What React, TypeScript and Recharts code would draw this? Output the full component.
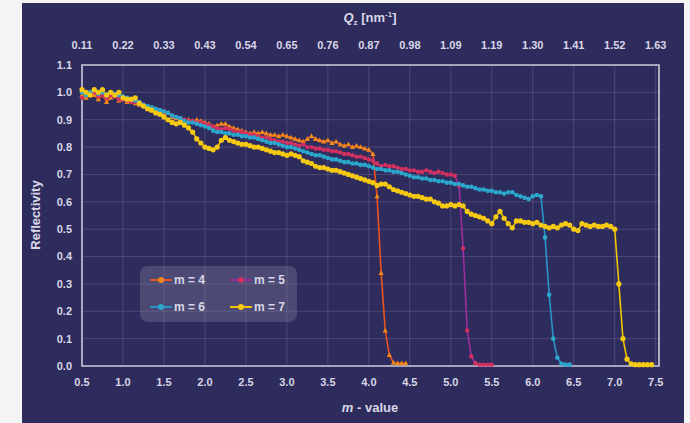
import React from "react";
import {
  CartesianGrid,
  Label,
  Line,
  LineChart,
  ReferenceArea,
  XAxis,
  YAxis,
} from "recharts";

// m-value grid shared by all four curves (step 0.05)
const M_VALUES = [
  0.5, 0.55, 0.6, 0.65, 0.7, 0.75, 0.8, 0.85, 0.9, 0.95,
  1.0, 1.05, 1.1, 1.15, 1.2, 1.25, 1.3, 1.35, 1.4, 1.45,
  1.5, 1.55, 1.6, 1.65, 1.7, 1.75, 1.8, 1.85, 1.9, 1.95,
  2.0, 2.05, 2.1, 2.15, 2.2, 2.25, 2.3, 2.35, 2.4, 2.45,
  2.5, 2.55, 2.6, 2.65, 2.7, 2.75, 2.8, 2.85, 2.9, 2.95,
  3.0, 3.05, 3.1, 3.15, 3.2, 3.25, 3.3, 3.35, 3.4, 3.45,
  3.5, 3.55, 3.6, 3.65, 3.7, 3.75, 3.8, 3.85, 3.9, 3.95,
  4.0, 4.05, 4.1, 4.15, 4.2, 4.25, 4.3, 4.35, 4.4, 4.45,
  4.5, 4.55, 4.6, 4.65, 4.7, 4.75, 4.8, 4.85, 4.9, 4.95,
  5.0, 5.05, 5.1, 5.15, 5.2, 5.25, 5.3, 5.35, 5.4, 5.45,
  5.5, 5.55, 5.6, 5.65, 5.7, 5.75, 5.8, 5.85, 5.9, 5.95,
  6.0, 6.05, 6.1, 6.15, 6.2, 6.25, 6.3, 6.35, 6.4, 6.45,
  6.5, 6.55, 6.6, 6.65, 6.7, 6.75, 6.8, 6.85, 6.9, 6.95,
  7.0, 7.05, 7.1, 7.15, 7.2, 7.25, 7.3, 7.35, 7.4, 7.45,
];

const R_M4 = [
  0.99, 0.98, 1.0, 0.99, 0.975, 0.99, 0.965, 0.98, 0.99, 0.97,
  0.975, 0.965, 0.97, 0.96, 0.955, 0.95, 0.94, 0.935, 0.93, 0.93,
  0.92, 0.925, 0.91, 0.905, 0.9, 0.895, 0.9, 0.895, 0.9, 0.895,
  0.89, 0.885, 0.875, 0.88, 0.885, 0.885, 0.875, 0.87, 0.865, 0.86,
  0.855, 0.85, 0.855, 0.85, 0.855, 0.85, 0.845, 0.845, 0.84, 0.845,
  0.84, 0.835, 0.83, 0.825, 0.82, 0.83, 0.84, 0.83, 0.825, 0.82,
  0.825, 0.815, 0.82, 0.81, 0.805, 0.81, 0.8, 0.805, 0.8, 0.795,
  0.79, 0.775, 0.62, 0.34, 0.13, 0.04, 0.012, 0.01, 0.01, 0.01,
];

const R_M5 = [
  0.98, 1.0, 0.99, 1.0, 0.985, 0.99, 0.98, 0.99, 0.985, 0.975,
  0.975, 0.97, 0.965, 0.965, 0.96, 0.955, 0.945, 0.94, 0.935, 0.93,
  0.93, 0.925, 0.915, 0.91, 0.905, 0.9, 0.895, 0.895, 0.89, 0.89,
  0.885, 0.88, 0.875, 0.87, 0.865, 0.87, 0.865, 0.86, 0.855, 0.855,
  0.85, 0.845, 0.845, 0.84, 0.835, 0.835, 0.83, 0.825, 0.82, 0.82,
  0.815, 0.815, 0.81, 0.805, 0.81, 0.8, 0.8, 0.795, 0.795, 0.79,
  0.79, 0.785, 0.785, 0.78, 0.775, 0.775, 0.77, 0.765, 0.765, 0.76,
  0.755, 0.75, 0.74, 0.73, 0.735, 0.73, 0.73, 0.725, 0.72, 0.72,
  0.715, 0.715, 0.71, 0.71, 0.715, 0.71, 0.705, 0.71, 0.705, 0.7,
  0.7, 0.695, 0.66, 0.43, 0.13, 0.035, 0.01, 0.005, 0.005, 0.005,
  0.005,
];

const R_M6 = [
  1.0, 0.99, 1.0, 1.01, 0.995, 1.0, 0.99, 1.0, 0.995, 0.99,
  0.985, 0.98, 0.975, 0.97, 0.965, 0.955, 0.95, 0.945, 0.94, 0.935,
  0.93, 0.925, 0.915, 0.91, 0.905, 0.895, 0.89, 0.89, 0.885, 0.88,
  0.875, 0.87, 0.86, 0.855, 0.855, 0.85, 0.85, 0.845, 0.845, 0.84,
  0.84, 0.835, 0.835, 0.83, 0.825, 0.82, 0.815, 0.815, 0.81, 0.805,
  0.8, 0.8, 0.795, 0.79, 0.785, 0.78, 0.775, 0.77, 0.77, 0.765,
  0.76, 0.755, 0.755, 0.75, 0.745, 0.745, 0.74, 0.74, 0.735, 0.735,
  0.73, 0.725, 0.72, 0.72, 0.715, 0.715, 0.71, 0.71, 0.705, 0.7,
  0.695, 0.69, 0.69, 0.685, 0.685, 0.68, 0.68, 0.675, 0.675, 0.67,
  0.67, 0.665, 0.665, 0.66, 0.655, 0.655, 0.65, 0.645, 0.645, 0.64,
  0.64, 0.635, 0.635, 0.63, 0.635, 0.635, 0.625, 0.62, 0.615, 0.61,
  0.62, 0.625, 0.62, 0.47, 0.26, 0.1, 0.03, 0.008, 0.005, 0.005,
];

const R_M7 = [
  1.01, 1.0, 0.99, 1.01, 1.0, 1.01, 0.99, 1.0, 0.99, 1.0,
  0.98, 0.975, 0.975, 0.98, 0.96, 0.95, 0.94, 0.935, 0.925, 0.92,
  0.91, 0.9, 0.89, 0.885, 0.89, 0.88, 0.87, 0.855, 0.83, 0.815,
  0.8, 0.795, 0.79, 0.8, 0.825, 0.835, 0.825, 0.82, 0.815, 0.81,
  0.81, 0.805, 0.8, 0.8, 0.795, 0.79, 0.785, 0.78, 0.78, 0.775,
  0.77, 0.775, 0.77, 0.765, 0.75, 0.745, 0.74, 0.73, 0.725, 0.725,
  0.72, 0.715, 0.715, 0.71, 0.705, 0.7, 0.695, 0.69, 0.685, 0.68,
  0.675, 0.67, 0.66, 0.665, 0.665, 0.655, 0.645, 0.64, 0.635, 0.63,
  0.625, 0.62, 0.62, 0.615, 0.61, 0.61, 0.6, 0.595, 0.585, 0.585,
  0.59, 0.585, 0.59, 0.585, 0.565, 0.555, 0.55, 0.545, 0.54, 0.53,
  0.52, 0.545, 0.565, 0.54, 0.52, 0.505, 0.53, 0.53, 0.525, 0.525,
  0.52, 0.525, 0.515, 0.51, 0.505, 0.51, 0.505, 0.515, 0.52, 0.515,
  0.5, 0.495, 0.52, 0.515, 0.51, 0.515, 0.51, 0.51, 0.515, 0.51,
  0.5, 0.3, 0.1, 0.025, 0.008, 0.005, 0.005, 0.005, 0.005, 0.005,
];

const M_TICKS = [0.5, 1.0, 1.5, 2.0, 2.5, 3.0, 3.5, 4.0, 4.5, 5.0, 5.5, 6.0, 6.5, 7.0, 7.5];
const Q_LABELS = [
  "0.11", "0.22", "0.33", "0.43", "0.54", "0.65", "0.76", "0.87",
  "0.98", "1.09", "1.19", "1.30", "1.41", "1.52", "1.63",
];
const Y_TICKS = [0, 0.1, 0.2, 0.3, 0.4, 0.5, 0.6, 0.7, 0.8, 0.9, 1.0, 1.1];

const SERIES = [
  { key: "m4", label: "m = 4", line: "#e8531f", dot: "#f28a1e", tri: true, r: 2.3 },
  { key: "m5", label: "m = 5", line: "#9c2f9e", dot: "#d2305f", tri: false, r: 2.2 },
  { key: "m6", label: "m = 6", line: "#2a93c6", dot: "#2ba6cc", tri: false, r: 2.3 },
  { key: "m7", label: "m = 7", line: "#f0c400", dot: "#f6c912", tri: false, r: 2.6 },
];

const data = M_VALUES.map((m, i) => ({
  m,
  m4: R_M4[i] ?? null,
  m5: R_M5[i] ?? null,
  m6: R_M6[i] ?? null,
  m7: R_M7[i] ?? null,
}));

const TEXT = "#d9d7e6";
const FONT = "'Liberation Sans', Arial, sans-serif";

function makeDot(color: string, tri: boolean, r: number) {
  return (p: any) => {
    const { cx, cy, index } = p;
    if (cx == null || cy == null || p.value == null) return <g key={index} />;
    if (tri) {
      return (
        <path
          key={index}
          d={`M${cx},${cy - 2.8}L${cx + 2.6},${cy + 2}L${cx - 2.6},${cy + 2}Z`}
          fill={color}
        />
      );
    }
    return <circle key={index} cx={cx} cy={cy} r={r} fill={color} />;
  };
}

function LegendBox() {
  return (
    <div
      style={{
        position: "absolute",
        left: 140,
        top: 266,
        width: 157,
        height: 56,
        borderRadius: 8,
        background: "rgba(120,116,150,0.42)",
        fontFamily: FONT,
        fontSize: 12,
        fontWeight: 600,
        color: TEXT,
      }}
    >
      {SERIES.map((s, i) => (
        <div
          key={s.key}
          style={{
            position: "absolute",
            left: 10 + (i % 2) * 80,
            top: 6 + Math.floor(i / 2) * 27,
            display: "flex",
            alignItems: "center",
            height: 16,
          }}
        >
          <svg width={22} height={10}>
            <line x1={0} y1={5} x2={22} y2={5} stroke={s.line} strokeWidth={2} />
            <circle cx={11} cy={5} r={3} fill={s.dot} />
          </svg>
          <span style={{ marginLeft: 2 }}>{s.label}</span>
        </div>
      ))}
    </div>
  );
}

export default function App() {
  return (
    <div style={{ position: "absolute", left: 0, top: 0, width: 690, height: 423, background: "#f4f4f6" }}>
      <div style={{ position: "absolute", left: 22, top: 3, width: 662, height: 420, background: "#2e2b5d" }} />
      <div style={{ position: "absolute", left: 0, top: 0 }}>
        <LineChart
          width={690}
          height={423}
          data={data}
          margin={{ top: 20, right: 31, bottom: 12, left: 22 }}
          style={{ fontFamily: FONT }}
        >
          <CartesianGrid stroke="rgba(255,255,255,0.14)" strokeWidth={1} />
          <XAxis
            dataKey="m"
            type="number"
            domain={[0.5, 7.54]}
            ticks={M_TICKS}
            tickFormatter={(v: number) => v.toFixed(1)}
            axisLine={false}
            tickLine={false}
            tickMargin={6}
            height={45}
            tick={{ fill: TEXT, fontSize: 11, fontWeight: 600 }}
            interval={0}
          >
            <Label
              content={(props: any) => {
                const vb = props.viewBox;
                return (
                  <text x={370} y={vb.y + 46} textAnchor="middle" fill={TEXT} fontSize={13} fontWeight={600}>
                    <tspan fontStyle="italic">m</tspan>
                    <tspan> - value</tspan>
                  </text>
                );
              }}
            />
          </XAxis>
          <XAxis
            xAxisId="top"
            dataKey="m"
            type="number"
            orientation="top"
            domain={[0.5, 7.54]}
            ticks={M_TICKS}
            tickFormatter={(_v: number, i: number) => Q_LABELS[i]}
            axisLine={false}
            tickLine={false}
            tickMargin={10}
            height={45}
            tick={{ fill: TEXT, fontSize: 11, fontWeight: 600 }}
            interval={0}
          >
            <Label
              content={() => (
                <text x={370} y={22} textAnchor="middle" fill={TEXT} fontSize={13} fontWeight={600}>
                  <tspan fontStyle="italic">Q</tspan>
                  <tspan fontSize={8} dy={3}>z</tspan>
                  <tspan dy={-3}> [nm</tspan>
                  <tspan fontSize={8} dy={-5}>-1</tspan>
                  <tspan dy={5}>]</tspan>
                </text>
              )}
            />
          </XAxis>
          <YAxis
            type="number"
            domain={[0, 1.1]}
            ticks={Y_TICKS}
            tickFormatter={(v: number) => v.toFixed(1)}
            axisLine={false}
            tickLine={false}
            tickMargin={4}
            width={60}
            tick={{ fill: TEXT, fontSize: 11, fontWeight: 600 }}
            interval={0}
          >
            <Label
              content={() => (
                <text
                  x={40}
                  y={215}
                  textAnchor="middle"
                  fill={TEXT}
                  fontSize={13}
                  fontWeight={600}
                  transform="rotate(-90 40 215)"
                >
                  Reflectivity
                </text>
              )}
            />
          </YAxis>
          <ReferenceArea
            x1={0.5}
            x2={7.54}
            y1={0}
            y2={1.1}
            fill="none"
            fillOpacity={0}
            stroke="#c9c8d6"
            strokeWidth={1.6}
            ifOverflow="visible"
          />
          {SERIES.map((s) => (
            <Line
              key={s.key}
              dataKey={s.key}
              stroke={s.line}
              strokeWidth={1.6}
              dot={makeDot(s.dot, s.tri, s.r)}
              activeDot={false}
              isAnimationActive={false}
              type="linear"
            />
          ))}
        </LineChart>
      </div>
      <LegendBox />
    </div>
  );
}
